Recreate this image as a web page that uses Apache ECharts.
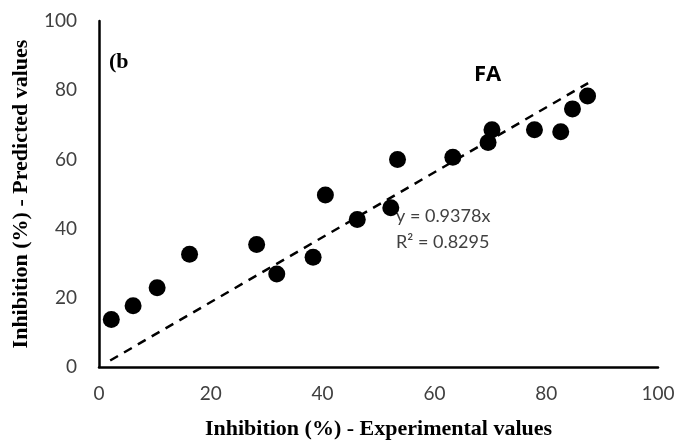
<!DOCTYPE html>
<html>
<head>
<meta charset="utf-8">
<script src="https://cdn.jsdelivr.net/npm/echarts@6/dist/echarts.min.js"></script>
<style>html,body{margin:0;padding:0;background:#fff;overflow:hidden;}#c{width:690px;height:445px;}</style>
</head>
<body>
<div id="c"></div>
<script>
// Data
var expValues = [2.2, 6.1, 10.4, 16.2, 28.2, 31.8, 38.3, 40.5, 46.2, 52.2, 53.4, 63.3, 69.6, 70.3, 77.9, 82.6, 84.7, 87.4];
var predValues = [13.7, 17.7, 22.9, 32.6, 35.4, 26.9, 31.7, 49.7, 42.6, 46.0, 60.0, 60.6, 64.9, 68.6, 68.6, 68.0, 74.6, 78.3];
var trendSlope = 0.9378;
var trendX = [2, 87.5];
var xTicks = [0, 20, 40, 60, 80, 100];
var yTicks = [0, 20, 40, 60, 80, 100];
var xTitle = 'Inhibition (%) - Experimental values';
var yTitle = 'Inhibition (%) - Predicted values';
var eqText = 'y = 0.9378x';
var r2Text = 'R\u00B2 = 0.8295';

var points = expValues.map(function (x, i) { return [x, predValues[i]]; });
var trend = trendX.map(function (x) { return [x, trendSlope * x]; });

var chart = echarts.init(document.getElementById('c'), null, {renderer: 'canvas'});
chart.setOption({
  animation: false,
  backgroundColor: '#fff',
  grid: {left: 99, right: 32, top: 21, bottom: 71, containLabel: false},
  xAxis: {
    type: 'value', min: xTicks[0], max: xTicks[xTicks.length - 1], interval: 20,
    axisLine: {show: true, lineStyle: {color: '#000', width: 2.5}},
    axisTick: {show: false},
    splitLine: {show: false},
    axisLabel: {color: '#404040', fontFamily: 'Lato', fontSize: 19, margin: 17},
    name: xTitle, nameLocation: 'middle', nameGap: 51,
    nameTextStyle: {fontFamily: 'Liberation Serif', fontWeight: 'bold', fontSize: 22, lineHeight: 22, color: '#000'}
  },
  yAxis: {
    type: 'value', min: yTicks[0], max: yTicks[yTicks.length - 1], interval: 20,
    axisLine: {show: true, lineStyle: {color: '#000', width: 2.5}},
    axisTick: {show: false},
    splitLine: {show: false},
    axisLabel: {color: '#404040', fontFamily: 'Lato', fontSize: 19, margin: 22},
    name: yTitle, nameLocation: 'middle', nameGap: 67, nameRotate: 90,
    nameTextStyle: {fontFamily: 'Liberation Serif', fontWeight: 'bold', fontSize: 22, color: '#000'}
  },
  series: [
    {
      type: 'line', data: trend, symbol: 'none', silent: true,
      lineStyle: {color: '#000', width: 2.5, type: [9, 7]}, z: 1
    },
    {
      type: 'scatter', data: points, symbol: 'circle', symbolSize: 17,
      itemStyle: {color: '#000', opacity: 1}, z: 2
    }
  ],
  graphic: [
    {type: 'text', left: 109, top: 51, style: {text: '(b', font: 'bold 22px "Liberation Serif"', fill: '#000'}},
    {type: 'text', left: 474, top: 64, style: {text: 'FA', font: 'bold 22px "Open Sans"', fill: '#000'}},
    {type: 'text', left: 396, top: 207, style: {text: eqText, font: '18px Lato', fill: '#404040'}},
    {type: 'text', left: 396, top: 233, style: {text: r2Text, font: '18px Lato', fill: '#404040'}}
  ]
});
</script>
</body>
</html>
